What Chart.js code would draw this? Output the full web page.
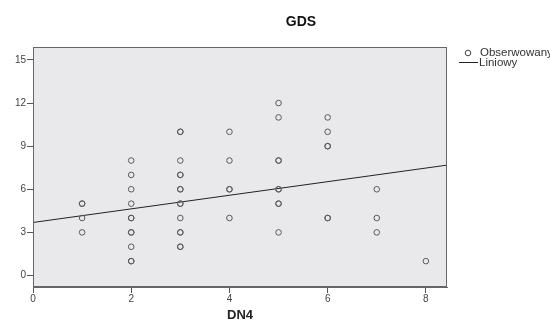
<!DOCTYPE html>
<html>
<head>
<meta charset="utf-8">
<script src="https://cdn.jsdelivr.net/npm/chart.js@4"></script>
<style>
  html, body { margin: 0; padding: 0; background: #fff; }
  #wrap { width: 550px; height: 323px; }
</style>
</head>
<body>
<div id="wrap"><canvas id="gdsChart"></canvas></div>
<script>
// Dane (powtórzone punkty = ciemniejsze kółka)
const dn4 = [1, 1, 1, 1,
    2, 2, 2, 2, 2, 2, 2, 2, 2, 2, 2,
    3, 3, 3, 3, 3, 3, 3, 3, 3, 3, 3, 3, 3, 3,
    4, 4, 4, 4, 4,
    5, 5, 5, 5, 5, 5, 5, 5, 5,
    6, 6, 6, 6, 6, 6,
    7, 7, 7,
    8];
const gds = [3, 4, 5, 5,
    1, 1, 2, 3, 3, 4, 4, 5, 6, 7, 8,
    2, 2, 3, 3, 4, 5, 5, 6, 6, 7, 7, 8, 10, 10,
    4, 6, 6, 8, 10,
    3, 5, 5, 6, 6, 8, 8, 11, 12,
    4, 4, 9, 9, 10, 11,
    3, 4, 6,
    1];
// Linia regresji (liniowy)
const fitX = [0, 8.43];
const fitY = [3.69, 7.68];

const xTicks = [0, 2, 4, 6, 8];
const yTicks = [0, 3, 6, 9, 12, 15];

const points = dn4.map((x, i) => ({ x: x, y: gds[i] }));
const fitLine = fitX.map((x, i) => ({ x: x, y: fitY[i] }));

const FONT = '"Liberation Sans", Arial, sans-serif';

// Tło i ramka obszaru wykresu, tytuł i legenda
const frame = {
    id: 'frame',
    beforeDatasetsDraw(chart) {
        const { ctx, chartArea: a } = chart;
        ctx.save();
        ctx.fillStyle = '#e9e9eb';
        ctx.fillRect(a.left, a.top, a.right - a.left, a.bottom - a.top);
        ctx.restore();
    },
    afterDraw(chart) {
        const { ctx, chartArea: a } = chart;
        ctx.save();
        ctx.strokeStyle = '#666';
        ctx.lineWidth = 1;
        ctx.strokeRect(a.left + 0.5, a.top + 0.5, a.right - a.left - 1, a.bottom - a.top - 1);

        // tytuł
        ctx.fillStyle = '#111';
        ctx.font = 'bold 14px ' + FONT;
        ctx.textAlign = 'center';
        ctx.textBaseline = 'middle';
        ctx.fillText('GDS', 301, 22);

        // legenda
        ctx.textAlign = 'left';
        ctx.font = '11.5px ' + FONT;
        ctx.fillStyle = '#333';
        ctx.beginPath();
        ctx.arc(468, 53, 2.8, 0, Math.PI * 2);
        ctx.strokeStyle = '#444';
        ctx.stroke();
        ctx.fillText('Obserwowany', 480, 53);
        ctx.beginPath();
        ctx.moveTo(459, 62.5);
        ctx.lineTo(478, 62.5);
        ctx.strokeStyle = '#222';
        ctx.stroke();
        ctx.fillText('Liniowy', 479, 63);
        ctx.restore();
    }
};

const ctx = document.getElementById('gdsChart').getContext('2d');
new Chart(ctx, {
    type: 'scatter',
    data: {
        datasets: [{
            label: 'Obserwowany',
            data: points,
            pointStyle: 'circle',
            pointRadius: 2.8,
            borderColor: '#5a5a5a',
            backgroundColor: 'rgba(0,0,0,0)',
            borderWidth: 1
        }, {
            label: 'Liniowy',
            type: 'line',
            data: fitLine,
            borderColor: '#222',
            borderWidth: 1,
            pointRadius: 0,
            fill: false
        }]
    },
    options: {
        responsive: true,
        maintainAspectRatio: false,
        animation: false,
        layout: { padding: { left: 0, right: 103, top: 47, bottom: 0 } },
        plugins: {
            legend: { display: false },
            tooltip: { enabled: false },
            title: { display: false }
        },
        scales: {
            x: {
                type: 'linear',
                min: 0,
                max: 8.43,
                afterBuildTicks: s => { s.ticks = xTicks.map(v => ({ value: v })); },
                afterFit: s => { s.height = 36; },
                grid: { drawOnChartArea: false, tickLength: 6, color: '#555' },
                border: { color: '#666' },
                ticks: {
                    color: '#444',
                    padding: 0,
                    font: { family: FONT, size: 10 }
                },
                title: {
                    display: true,
                    text: 'DN4',
                    color: '#222',
                    font: { family: FONT, size: 13, weight: 'bold' },
                    padding: { top: 0, bottom: 0 }
                }
            },
            y: {
                type: 'linear',
                min: -0.8,
                max: 15.9,
                afterBuildTicks: s => { s.ticks = yTicks.map(v => ({ value: v })); },
                afterFit: s => { s.width = 33; },
                grid: { drawOnChartArea: false, tickLength: 6, color: '#555' },
                border: { color: '#666' },
                ticks: {
                    color: '#444',
                    padding: 1,
                    font: { family: FONT, size: 10 }
                }
            }
        }
    },
    plugins: [frame]
});
</script>
</body>
</html>
